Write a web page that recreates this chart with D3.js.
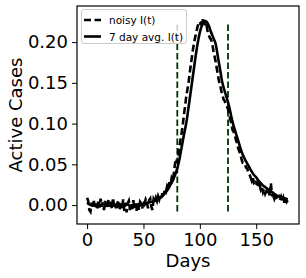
<!DOCTYPE html>
<html>
<head>
<meta charset="utf-8">
<style>
  body { margin: 0; background: #fff; }
  svg text { font-family: "DejaVu Sans", sans-serif; fill: #000; }
</style>
</head>
<body>
<svg width="306" height="278"></svg>
<script src="https://d3js.org/d3.v7.min.js"></script>
<script>

// noisy I(t), one value per day, day 0..178
var noisyDays = d3.range(0, 179);
var noisyI = [
  0.009, 0.005, -0.006, -0.008, 0.003, -0.002, 0.005, -0.004, 0.002, -0.005,
  0.006, -0.003, 0.008, -0.002, 0.003, -0.006, 0.005, 0.000, -0.004, 0.007,
  -0.002, 0.005, -0.005, 0.009, -0.003, 0.002, -0.006, 0.003, 0.006, -0.005,
  0.002, -0.004, 0.007, -0.007, 0.003, -0.009, 0.002, 0.005, -0.006, 0.001,
  -0.005, 0.006, -0.004, 0.002, -0.007, 0.003, -0.006, 0.004, 0.002, -0.004,
  0.006, 0.002, 0.007, 0.004, -0.004, 0.006, 0.008, -0.002, -0.006, 0.007,
  0.004, 0.009, 0.005, 0.011, 0.007, 0.013, 0.009, 0.017, 0.012, 0.020,
  0.017, 0.023, 0.020, 0.028, 0.024, 0.033, 0.030, 0.039, 0.051, 0.057,
  0.052, 0.062, 0.072, 0.082, 0.090, 0.100, 0.112, 0.122, 0.134, 0.142,
  0.150, 0.162, 0.172, 0.182, 0.192, 0.200, 0.207, 0.213, 0.219, 0.224,
  0.225, 0.221, 0.229, 0.225, 0.224, 0.218, 0.220, 0.212, 0.208, 0.205,
  0.203, 0.198, 0.190, 0.183, 0.176, 0.168, 0.160, 0.152, 0.148, 0.140,
  0.136, 0.130, 0.128, 0.124, 0.121, 0.118, 0.112, 0.105, 0.100, 0.092,
  0.090, 0.086, 0.080, 0.076, 0.070, 0.066, 0.063, 0.056, 0.052, 0.052,
  0.050, 0.046, 0.045, 0.040, 0.038, 0.034, 0.030, 0.034, 0.027, 0.028,
  0.024, 0.028, 0.021, 0.025, 0.019, 0.022, 0.016, 0.020, 0.014, 0.017,
  0.013, 0.018, 0.011, 0.027, 0.012, 0.012, 0.008, 0.013, 0.009, 0.010,
  0.011, 0.006, 0.010, 0.005, 0.009, 0.003, 0.008, 0.004, 0.006
];

// 7 day avg. I(t), every second day
var avgDays = d3.range(0, 179, 2);
var avgI = [
  0.003, 0.001, 0.000, 0.001, -0.001, 0.001, 0.000, 0.002, 0.000, -0.001,
  0.000, 0.001, -0.001, 0.000, 0.001, -0.001, -0.002, 0.000, 0.001, -0.001,
  0.000, -0.001, 0.000, -0.001, 0.001, 0.000, 0.002, 0.003, 0.004, 0.004,
  0.005, 0.006, 0.008, 0.010, 0.013, 0.016, 0.020, 0.025, 0.030, 0.037,
  0.045, 0.057, 0.072, 0.087, 0.101, 0.120, 0.140, 0.160, 0.180, 0.198,
  0.212, 0.221, 0.226, 0.225, 0.220, 0.212, 0.205, 0.198, 0.182, 0.166,
  0.150, 0.140, 0.131, 0.121, 0.108, 0.097, 0.088, 0.079, 0.070, 0.062,
  0.056, 0.051, 0.046, 0.041, 0.037, 0.034, 0.030, 0.027, 0.024, 0.022,
  0.020, 0.018, 0.016, 0.014, 0.012, 0.011, 0.010, 0.009, 0.008, 0.007
];

var markerDays = [80, 125];
var xTicks = [0, 50, 100, 150];
var yTicks = [0, 0.05, 0.10, 0.15, 0.20];
var seriesNames = ["noisy I(t)", "7 day avg. I(t)"];

var svg = d3.select("svg"),
    padL = 77, padR = 299, padT = 6, padB = 224;

var x = d3.scaleLinear().domain([-8.95, 187.95]).range([padL, padR]);
var y = d3.scaleLinear().domain([-0.0232, 0.2443]).range([padB, padT]);

var line = d3.line()
    .x(function(d) { return x(d[0]); })
    .y(function(d) { return y(d[1]); });

svg.append("defs").append("clipPath").attr("id", "clip")
  .append("rect")
    .attr("x", padL).attr("y", padT)
    .attr("width", padR - padL).attr("height", padB - padT);

var plot = svg.append("g").attr("clip-path", "url(#clip)");

// vertical markers
markerDays.forEach(function(d) {
  plot.append("line")
      .attr("x1", x(d)).attr("x2", x(d))
      .attr("y1", y(-0.008)).attr("y2", y(0.225))
      .attr("stroke", "#003300")
      .attr("stroke-width", 1.8)
      .attr("stroke-dasharray", "6.5,3");
});

plot.append("path")
    .datum(noisyDays.map(function(d, i) { return [d, noisyI[i]]; }))
    .attr("d", line)
    .attr("fill", "none")
    .attr("stroke", "#000")
    .attr("stroke-width", 2.6)
    .attr("stroke-dasharray", "7,3.5");

plot.append("path")
    .datum(avgDays.map(function(d, i) { return [d, avgI[i]]; }))
    .attr("d", line.curve(d3.curveMonotoneX))
    .attr("fill", "none")
    .attr("stroke", "#000")
    .attr("stroke-width", 2.6);

// axes
var xAxis = svg.append("g")
    .attr("transform", "translate(0," + padB + ")")
    .call(d3.axisBottom(x).tickValues(xTicks).tickSize(5).tickPadding(4));
var yAxis = svg.append("g")
    .attr("transform", "translate(" + padL + ",0)")
    .call(d3.axisLeft(y).tickValues(yTicks).tickFormat(d3.format(".2f")).tickSize(5).tickPadding(4));

[xAxis, yAxis].forEach(function(a) {
  a.select(".domain").remove();
  a.selectAll("text").style("font-size", "18px").style("font-family", "DejaVu Sans");
  a.selectAll("line").attr("stroke", "#000").attr("stroke-width", 1);
});

svg.append("rect")
    .attr("x", padL).attr("y", padT)
    .attr("width", padR - padL).attr("height", padB - padT)
    .attr("fill", "none").attr("stroke", "#000").attr("stroke-width", 1.2);

svg.append("text")
    .attr("x", (padL + padR) / 2).attr("y", 267)
    .attr("text-anchor", "middle")
    .style("font-size", "18px")
    .text("Days");

svg.append("text")
    .attr("transform", "translate(22," + ((padT + padB) / 2) + ") rotate(-90)")
    .attr("text-anchor", "middle")
    .style("font-size", "18px")
    .text("Active Cases");

// legend
var legend = svg.append("g");
legend.append("rect")
    .attr("x", 81.5).attr("y", 9.5)
    .attr("width", 105).attr("height", 34)
    .attr("rx", 2.5)
    .attr("fill", "#fff").attr("fill-opacity", 0.8)
    .attr("stroke", "#ccc").attr("stroke-width", 1);

seriesNames.forEach(function(name, i) {
  var cy = 20 + i * 16.5;
  legend.append("line")
      .attr("x1", 84).attr("x2", 101)
      .attr("y1", cy).attr("y2", cy)
      .attr("stroke", "#000")
      .attr("stroke-width", 2.6)
      .attr("stroke-dasharray", i === 0 ? "7,3.5" : null);
  legend.append("text")
      .attr("x", 109).attr("y", cy + 4)
      .style("font-size", "10.5px")
      .text(name);
});

</script>
</body>
</html>
